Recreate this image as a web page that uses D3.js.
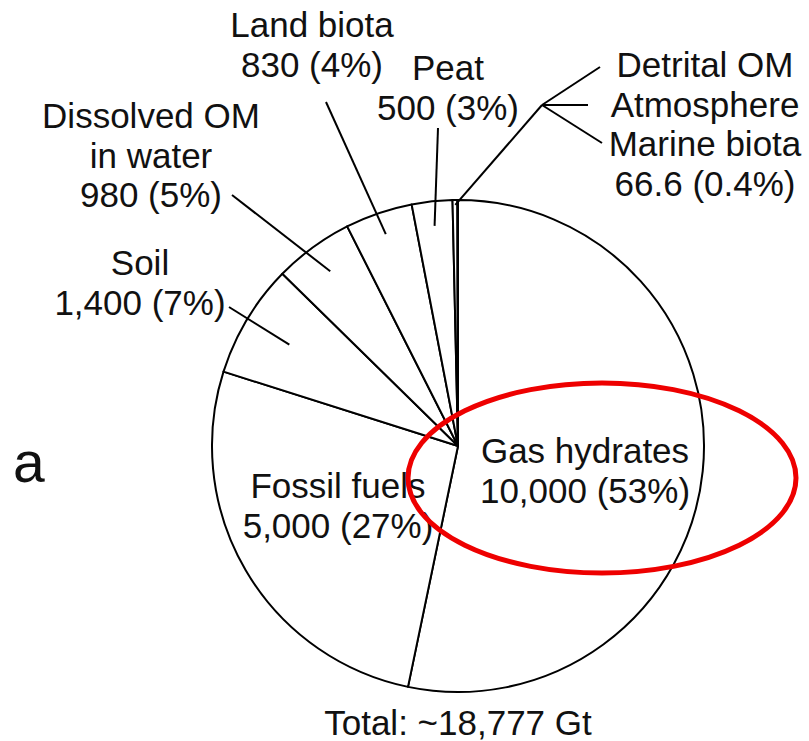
<!DOCTYPE html>
<html>
<head>
<meta charset="utf-8">
<script src="https://cdn.jsdelivr.net/npm/d3@7"></script>
<style>
  html, body { margin: 0; padding: 0; background: #fff; }
  svg { display: block; }
  text { font-family: "Liberation Sans", Arial, Helvetica, sans-serif; fill: #111; }
</style>
</head>
<body>
<svg id="chart" width="809" height="741"></svg>
<script>
// Organic carbon reservoirs (Gt C)
const categories = ["Gas hydrates", "Fossil fuels", "Soil", "Dissolved OM in water",
                    "Land biota", "Peat", "Detrital OM", "Atmosphere", "Marine biota"];
const values = [10000, 5000, 1400, 980, 830, 500, 60, 3.6, 3];

// Label groups: which slices each label describes, and its text lines
const labelNames = [
  ["Gas hydrates"],
  ["Fossil fuels"],
  ["Soil"],
  ["Dissolved OM", "in water"],
  ["Land biota"],
  ["Peat"],
  ["Detrital OM", "Atmosphere", "Marine biota"]
];
const labelMembers = [[0], [1], [2], [3], [4], [5], [6, 7, 8]];

const svg = d3.select("#chart");
const cx = 458, cy = 446, R = 246;

const total = d3.sum(values);
const fmtNum = d3.format(",");
const pctText = v => {
  const p = v / total * 100;
  return p < 1 ? d3.format(".1f")(p) + "%" : Math.round(p) + "%";
};
const valText = v => (Number.isInteger(v) ? fmtNum(v) : d3.format(".1f")(v));

const pie = d3.pie().sort(null).value(d => d).startAngle(0).endAngle(2 * Math.PI);
const arcs = pie(values);
const arc = d3.arc().innerRadius(0).outerRadius(R);

const g = svg.append("g").attr("transform", `translate(${cx},${cy})`);

g.selectAll("path.slice")
  .data(arcs)
  .join("path")
  .attr("class", "slice")
  .attr("d", arc)
  .attr("fill", "#fff")
  .attr("stroke", "#000")
  .attr("stroke-width", 2)
  .attr("stroke-linejoin", "round");

// polar helper: angle measured clockwise from 12 o'clock
const polar = (a, r) => [r * Math.sin(a), -r * Math.cos(a)];

// Layout of the labels (text anchor centre + first baseline) and leader lines
const layout = [
  { x: 585 - cx, y: 463 - cy, leader: null },
  { x: 338 - cx, y: 498 - cy, leader: null },
  { x: 140 - cx, y: 275 - cy, leader: { frac: 0.80, end: [229 - cx, 307 - cy] } },
  { x: 151 - cx, y: 128 - cy, leader: { frac: 0.88, end: [232 - cx, 195 - cy] } },
  { x: 312 - cx, y: 37 - cy,  leader: { frac: 0.91, end: [326 - cx, 102 - cy] } },
  { x: 448 - cx, y: 80 - cy,  leader: { frac: 0.90, end: [438 - cx, 128 - cy] } },
  { x: 705 - cx, y: 77 - cy,  leader: { frac: 0.98, end: [542 - cx, 105 - cy],
      branches: [[600 - cx, 67 - cy], [588 - cx, 105 - cy], [602 - cx, 143 - cy]] } }
];

const lineGap = 39.5;
const fontSize = 35;

labelNames.forEach((names, i) => {
  const members = labelMembers[i];
  const v = d3.sum(members, k => values[k]);
  const a0 = arcs[members[0]].startAngle;
  const a1 = arcs[members[members.length - 1]].endAngle;
  const mid = (a0 + a1) / 2;
  const L = layout[i];

  const lines = names.concat([`${valText(v)} (${pctText(v)})`]);
  const t = g.append("text")
    .attr("text-anchor", "middle")
    .attr("font-size", fontSize);
  lines.forEach((s, j) => {
    t.append("tspan").attr("x", L.x).attr("y", L.y + j * lineGap).text(s);
  });

  if (L.leader) {
    const p0 = polar(mid, R * L.leader.frac);
    g.append("line")
      .attr("x1", p0[0]).attr("y1", p0[1])
      .attr("x2", L.leader.end[0]).attr("y2", L.leader.end[1])
      .attr("stroke", "#000").attr("stroke-width", 2);
    (L.leader.branches || []).forEach(b => {
      g.append("line")
        .attr("x1", L.leader.end[0]).attr("y1", L.leader.end[1])
        .attr("x2", b[0]).attr("y2", b[1])
        .attr("stroke", "#000").attr("stroke-width", 2);
    });
  }
});

// Total beneath the pie
svg.append("text")
  .attr("x", cx).attr("y", 735)
  .attr("text-anchor", "middle")
  .attr("font-size", fontSize)
  .text(`Total: ~${fmtNum(Math.round(total))} Gt`);

// Panel letter
svg.append("text")
  .attr("x", 13).attr("y", 482)
  .attr("font-size", 57)
  .text("a");

// Highlight around the gas hydrates reservoir
svg.append("ellipse")
  .attr("cx", 602).attr("cy", 478)
  .attr("rx", 194).attr("ry", 95)
  .attr("fill", "none")
  .attr("stroke", "#ee0000")
  .attr("stroke-width", 5);
</script>
</body>
</html>
